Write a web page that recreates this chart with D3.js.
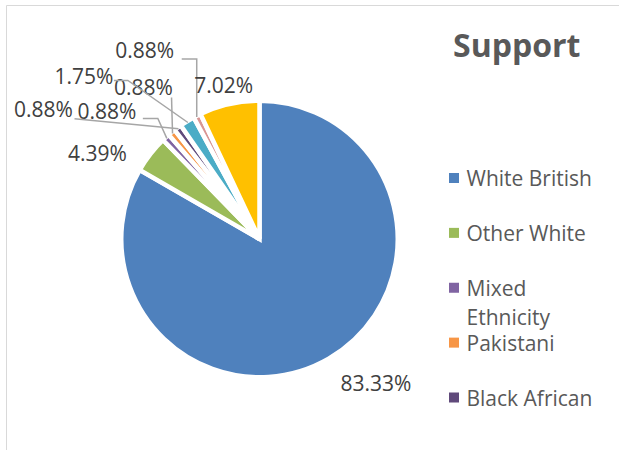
<!DOCTYPE html>
<html>
<head>
<meta charset="utf-8">
<script src="https://cdn.jsdelivr.net/npm/d3@7"></script>
<style>
  body { margin: 0; background: #fff; }
  svg { display: block; font-family: "Open Sans", sans-serif; }
</style>
</head>
<body>
<svg id="svg" width="619" height="450"></svg>
<script>
// data
var categories = ["White British", "Other White", "Mixed Ethnicity", "Pakistani", "Black African", "Indian", "Other", "Not Stated"];
var values = [83.33, 4.39, 0.88, 0.88, 0.88, 1.75, 0.88, 7.02];
var labels = ["83.33%", "4.39%", "0.88%", "0.88%", "0.88%", "1.75%", "0.88%", "7.02%"];
var colors = ["#4F81BD", "#9BBB59", "#8064A2", "#F79646", "#604A7B", "#4BACC6", "#D99694", "#FFC000"];
var legendShown = 5; // legend is cut off after five entries

// label placement, relative to the slice's outer edge (Excel moved these by hand)
var labelOffset = [[48, 26], [-54, -1], [-60, -27], [-29, -46], [-135, -19], [-104, -46], [-53, -66], [-6, -20]];
// leader: null = none, otherwise start relative to label centre and whether it elbows
var leaders = [null, null,
  {sx: 36, sy: 7, elbow: 15},
  {sx: 28, sy: 10, elbow: 0},
  {sx: 31, sy: 9, elbow: 0},
  {sx: 30, sy: 4, elbow: 14},
  {sx: 37, sy: 8, elbow: "vertical"},
  null];

var svg = d3.select("#svg");
var cx = 259.5, cy = 239, radius = 138.25;

// chart area border (only top and left are inside the picture)
svg.append("line").attr("x1", 6.5).attr("y1", 5.5).attr("x2", 619).attr("y2", 5.5)
  .attr("stroke", "#D9D9D9").attr("stroke-width", 1);
svg.append("line").attr("x1", 6.5).attr("y1", 5.5).attr("x2", 6.5).attr("y2", 450)
  .attr("stroke", "#D9D9D9").attr("stroke-width", 1);

var pie = d3.pie().sort(null).value(function(d) { return d; });
var arcs = pie(values);
var arc = d3.arc().innerRadius(0).outerRadius(radius);

var g = svg.append("g").attr("transform", "translate(" + cx + "," + cy + ")");

g.selectAll("path.slice")
  .data(arcs)
  .enter()
  .append("path")
  .attr("class", "slice")
  .attr("d", arc)
  .attr("fill", function(d, i) { return colors[i]; })
  .attr("stroke", "#fff")
  .attr("stroke-width", 4.5)
  .attr("stroke-linejoin", "miter");

// point on the visible rim in the middle of each slice
function rimPoint(d) {
  var a = (d.startAngle + d.endAngle) / 2;
  var r = radius - 1.5;
  return [cx + r * Math.sin(a), cy - r * Math.cos(a)];
}

arcs.forEach(function(d, i) {
  var p = rimPoint(d);
  var lx = p[0] + labelOffset[i][0];
  var ly = p[1] + labelOffset[i][1];
  var ld = leaders[i];
  if (ld) {
    var s = [lx + ld.sx, ly + ld.sy];
    var pts = [s];
    if (ld.elbow === "vertical") {
      pts.push([p[0] - 1, s[1]]);
      pts.push([p[0] - 1, p[1]]);
    } else {
      if (ld.elbow) pts.push([s[0] + ld.elbow, s[1]]);
      pts.push(p);
    }
    svg.append("path")
      .attr("d", d3.line()(pts))
      .attr("fill", "none")
      .attr("stroke", "#A6A6A6")
      .attr("stroke-width", 1.5);
  }
  svg.append("text")
    .attr("x", lx)
    .attr("y", ly)
    .attr("dy", "0.35em")
    .attr("text-anchor", "middle")
    .style("font-size", "21px")
    .style("fill", "#404040")
    .text(labels[i]);
});

// title
svg.append("text")
  .attr("x", 453)
  .attr("y", 57)
  .style("font-size", "32px")
  .style("font-weight", "bold")
  .style("fill", "#595959")
  .text("Support");

// legend
var legY = d3.scaleLinear().domain([0, 4]).range([178, 397.5]);
var legend = svg.selectAll("g.leg")
  .data(categories.slice(0, legendShown))
  .enter()
  .append("g")
  .attr("class", "leg")
  .attr("transform", function(d, i) { return "translate(449," + legY(i) + ")"; });

legend.append("rect")
  .attr("x", 0).attr("y", -5)
  .attr("width", 10).attr("height", 10)
  .attr("fill", function(d, i) { return colors[i]; });

legend.append("text")
  .attr("x", 17.5)
  .attr("y", 8)
  .style("font-size", "21px")
  .style("fill", "#595959")
  .each(function(d) {
    // Excel wraps the long entry onto two lines
    var words = d === "Mixed Ethnicity" ? d.split(" ") : [d];
    var t = d3.select(this);
    words.forEach(function(w, k) {
      t.append("tspan").attr("x", 17.5).attr("dy", k === 0 ? 0 : 29).text(w);
    });
  });
</script>
</body>
</html>
